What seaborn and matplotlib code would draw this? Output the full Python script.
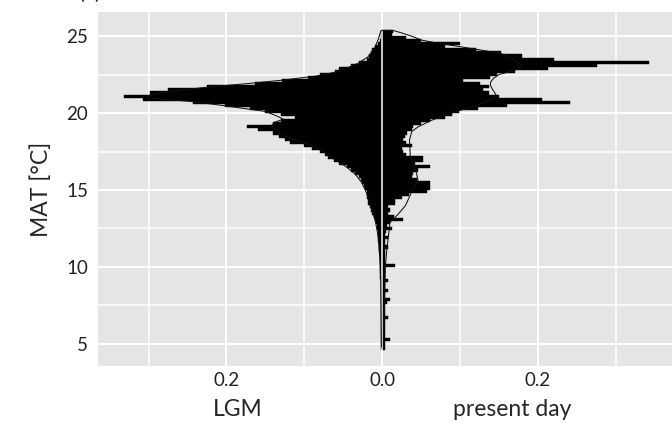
import matplotlib
matplotlib.use("Agg")
import matplotlib.pyplot as plt
import matplotlib.transforms as mtransforms
import seaborn as sns
import numpy as np
import pandas as pd

# ggplot-like grey theme
sns.set_theme(style="darkgrid", rc={
    "axes.facecolor": "#E5E5E5",
    "grid.color": "white",
    "axes.edgecolor": "#E5E5E5",
})
plt.rcParams['font.family'] = ['Lato', 'DejaVu Sans']

# histogram bins (MAT, degC) - bar lengths, low -> high MAT
bin_edges = np.round(np.arange(4.6, 25.41, 0.2), 1).tolist()
bin_mid = np.round((np.array(bin_edges[:-1]) + np.array(bin_edges[1:])) / 2, 1)

present_hist = [
    0.003, 0.003, 0.004, 0.010, 0.004, 0.003, 0.003, 0.003, 0.003, 0.003,
    0.007, 0.004, 0.004, 0.003, 0.003, 0.006, 0.010, 0.004, 0.003, 0.007,
    0.003, 0.004, 0.007, 0.003, 0.003, 0.003, 0.004, 0.017, 0.004, 0.004,
    0.003, 0.003, 0.004, 0.007, 0.004, 0.004, 0.007, 0.004, 0.005, 0.012,
    0.006, 0.010, 0.027, 0.015, 0.008, 0.010, 0.008, 0.016, 0.016, 0.025,
    0.035, 0.057, 0.061, 0.061, 0.061, 0.045, 0.038, 0.040, 0.046, 0.061,
    0.042, 0.053, 0.053, 0.030, 0.027, 0.025, 0.038, 0.030, 0.027, 0.029,
    0.032, 0.038, 0.040, 0.050, 0.061, 0.081, 0.090, 0.098, 0.123, 0.160,
    0.241, 0.205, 0.150, 0.137, 0.130, 0.137, 0.125, 0.104, 0.138, 0.148,
    0.170, 0.213, 0.276, 0.342, 0.220, 0.179, 0.153, 0.120, 0.081, 0.100,
    0.050, 0.030, 0.012, 0.014,
]
lgm_hist = [
    0.001, 0.002, 0.002, 0.002, 0.002, 0.002, 0.002, 0.002, 0.002, 0.002,
    0.002, 0.002, 0.002, 0.002, 0.002, 0.002, 0.002, 0.002, 0.002, 0.002,
    0.002, 0.002, 0.002, 0.003, 0.003, 0.003, 0.003, 0.003, 0.003, 0.003,
    0.003, 0.003, 0.004, 0.004, 0.004, 0.005, 0.005, 0.005, 0.006, 0.007,
    0.007, 0.008, 0.009, 0.011, 0.013, 0.014, 0.016, 0.018, 0.018, 0.019,
    0.020, 0.020, 0.022, 0.024, 0.026, 0.027, 0.030, 0.035, 0.040, 0.045,
    0.056, 0.062, 0.069, 0.074, 0.080, 0.090, 0.101, 0.118, 0.125, 0.133,
    0.140, 0.160, 0.174, 0.140, 0.130, 0.112, 0.130, 0.150, 0.170, 0.202,
    0.243, 0.307, 0.332, 0.298, 0.275, 0.225, 0.163, 0.129, 0.095, 0.080,
    0.060, 0.056, 0.040, 0.030, 0.020, 0.017, 0.015, 0.013, 0.009, 0.006,
    0.003, 0.002, 0.002, 0.002,
]

# density curves
present_kde_t = [4.8, 6.0, 8.0, 10.0, 11.2, 12.0, 12.9, 13.4, 14.0, 14.9, 15.65,
                 16.5, 17.2, 18.25, 18.8, 19.1, 19.5, 19.87, 20.2, 20.52, 20.85,
                 21.0, 21.2, 21.5, 21.8, 22.0, 22.25, 22.5, 22.7, 22.9, 23.1,
                 23.4, 23.7, 23.88, 24.1, 24.31, 24.5, 24.74, 24.95, 25.2,
                 25.36, 25.37]
present_kde = [0.002, 0.002, 0.003, 0.004, 0.006, 0.008, 0.010, 0.020, 0.030,
               0.038, 0.046, 0.042, 0.036, 0.035, 0.038, 0.046, 0.062, 0.081,
               0.102, 0.123, 0.138, 0.145, 0.146, 0.142, 0.139, 0.139, 0.143,
               0.150, 0.165, 0.177, 0.179, 0.172, 0.160, 0.152, 0.125, 0.100,
               0.075, 0.050, 0.040, 0.025, 0.014, 0.0]
lgm_kde_t = [4.8, 7.0, 9.2, 10.5, 11.9, 12.5, 13.0, 13.5, 14.2, 14.8, 15.45,
             16.0, 16.46, 16.8, 17.1, 17.5, 17.9, 18.3, 18.68, 18.95, 19.2,
             19.4, 19.6, 19.8, 20.1, 20.47, 20.74, 20.95, 21.1, 21.28, 21.45,
             21.7, 21.9, 22.14, 22.4, 22.7, 23.23, 23.66, 24.2, 24.8, 25.3,
             25.37]
lgm_kde = [0.001, 0.0015, 0.002, 0.003, 0.005, 0.007, 0.009, 0.012, 0.017,
           0.020, 0.026, 0.034, 0.045, 0.055, 0.065, 0.075, 0.092, 0.115,
           0.131, 0.138, 0.142, 0.138, 0.127, 0.135, 0.150, 0.202, 0.243,
           0.295, 0.302, 0.290, 0.265, 0.221, 0.175, 0.127, 0.085, 0.056,
           0.031, 0.018, 0.010, 0.005, 0.002, 0.0]

hist_df = pd.DataFrame({"MAT": bin_mid, "present": present_hist,
                        "LGM": -np.array(lgm_hist)})

fig = plt.figure(figsize=(6.72, 4.28), dpi=100)
ax = fig.add_axes([98 / 672, 62 / 428, 577 / 672, 354 / 428])

for col in ["present", "LGM"]:
    sns.histplot(data=hist_df, y="MAT", weights=col, bins=bin_edges, ax=ax,
                 color="black", alpha=1, edgecolor="black", linewidth=0.3)

# light line at zero drawn over the bars
ax.axvline(0, color="white", lw=1.1, zorder=3)

sns.lineplot(x=present_kde, y=present_kde_t, sort=False, estimator=None,
             color="#111111", lw=0.75, ax=ax, zorder=4)
sns.lineplot(x=-np.array(lgm_kde), y=lgm_kde_t, sort=False, estimator=None,
             color="#111111", lw=0.75, ax=ax, zorder=4)

ax.set_xlim(-0.365, 0.376)
ax.set_ylim(3.57, 26.56)
ax.set_xticks([-0.2, 0.0, 0.2])
ax.set_xticklabels(["0.2", "0.0", "0.2"])
ax.set_yticks([5, 10, 15, 20, 25])
ax.set_xticks([-0.3, -0.1, 0.1, 0.3], minor=True)
ax.set_yticks([7.5, 12.5, 17.5, 22.5], minor=True)
ax.grid(which="major", color="white", lw=1.4)
ax.grid(which="minor", color="white", lw=1.1)
ax.tick_params(which="both", length=0, labelsize=13.5, labelcolor="#222222")
ax.tick_params(axis="y", pad=7)
ax.tick_params(axis="x", pad=4)
for s in ax.spines.values():
    s.set_visible(False)

ax.set_xlabel("")
ax.set_ylabel("MAT [°C]", fontsize=16.5, labelpad=10)

trans = mtransforms.blended_transform_factory(ax.transData, ax.transAxes)
ax.text(-0.185, -0.124, "LGM", transform=trans, ha="center", va="center", fontsize=16.5)
ax.text(0.167, -0.124, "present day", transform=trans, ha="center", va="center", fontsize=16.5)

# panel tag, cut off by the top edge
fig.text(89.5 / 672, 1 + 1.5 / 428, "(a)", ha="center", va="baseline", fontsize=15)

fig.savefig("out.png", dpi=100)
